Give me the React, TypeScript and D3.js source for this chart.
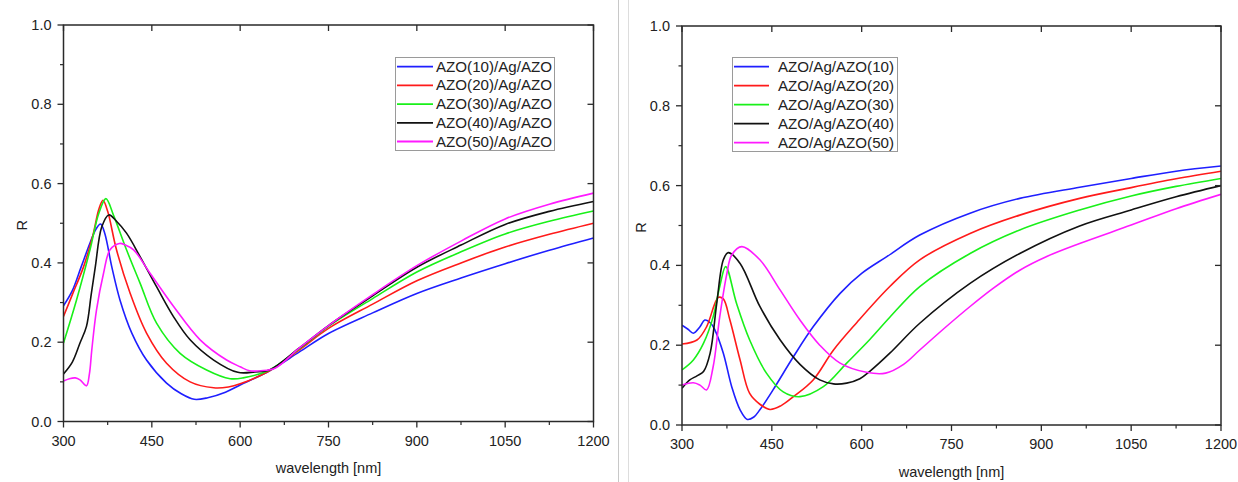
import React from "react";
import * as d3 from "d3";

type Pt = [number, number];

// ---- Left panel data: AZO(x)/Ag/AZO (wavelength nm, R)
const leftAZO10: Pt[] = [[300,0.292],[315,0.33],[330,0.39],[345,0.45],[355,0.485],[363,0.498],[370,0.475],[382,0.39],[396,0.306],[416,0.223],[441,0.155],[475,0.097],[500,0.07],[522,0.056],[545,0.06],[575,0.074],[600,0.092],[650,0.128],[700,0.175],[750,0.222],[825,0.274],[900,0.323],[975,0.362],[1050,0.398],[1125,0.432],[1200,0.463]];
const leftAZO20: Pt[] = [[300,0.265],[315,0.32],[334,0.39],[350,0.47],[360,0.535],[367,0.558],[375,0.53],[390,0.433],[413,0.324],[441,0.223],[475,0.147],[515,0.1],[555,0.085],[580,0.087],[600,0.095],[650,0.128],[700,0.18],[750,0.235],[825,0.296],[900,0.355],[975,0.4],[1050,0.44],[1125,0.472],[1200,0.5]];
const leftAZO30: Pt[] = [[300,0.198],[322,0.306],[345,0.433],[360,0.525],[372,0.562],[385,0.52],[407,0.433],[430,0.349],[458,0.248],[498,0.172],[543,0.13],[583,0.108],[605,0.11],[650,0.13],[700,0.183],[750,0.24],[825,0.31],[900,0.377],[975,0.428],[1050,0.473],[1125,0.505],[1200,0.531]];
const leftAZO40: Pt[] = [[300,0.12],[315,0.15],[328,0.198],[339,0.24],[347,0.32],[354,0.39],[365,0.491],[377,0.521],[390,0.505],[407,0.475],[430,0.416],[458,0.34],[487,0.264],[515,0.206],[555,0.155],[596,0.124],[625,0.125],[650,0.13],[700,0.185],[750,0.242],[825,0.317],[900,0.389],[975,0.445],[1050,0.497],[1125,0.53],[1200,0.555]];
const leftAZO50: Pt[] = [[300,0.102],[310,0.108],[320,0.11],[328,0.105],[339,0.09],[344,0.12],[348,0.18],[356,0.281],[368,0.374],[379,0.433],[395,0.449],[405,0.445],[419,0.433],[447,0.374],[487,0.29],[532,0.206],[577,0.155],[600,0.138],[616,0.128],[635,0.128],[660,0.135],[700,0.185],[750,0.242],[825,0.32],[900,0.393],[975,0.455],[1050,0.511],[1125,0.548],[1200,0.576]];

// ---- Right panel data: AZO/Ag/AZO(x)
const rightAZO10: Pt[] = [[300,0.25],[310,0.24],[319,0.23],[330,0.246],[338,0.263],[348,0.255],[355,0.238],[369,0.18],[383,0.096],[397,0.038],[409,0.014],[420,0.02],[430,0.038],[452,0.088],[486,0.171],[519,0.246],[564,0.33],[600,0.38],[642,0.422],[697,0.476],[781,0.531],[864,0.568],[964,0.596],[1050,0.618],[1125,0.636],[1200,0.649]];
const rightAZO20: Pt[] = [[300,0.203],[325,0.213],[341,0.246],[355,0.305],[361,0.32],[369,0.316],[380,0.263],[397,0.163],[413,0.079],[430,0.052],[447,0.039],[465,0.048],[486,0.071],[519,0.113],[553,0.188],[592,0.257],[647,0.347],[697,0.414],[781,0.48],[864,0.526],[964,0.568],[1050,0.595],[1125,0.617],[1200,0.636]];
const rightAZO30: Pt[] = [[300,0.138],[319,0.163],[336,0.205],[352,0.271],[363,0.347],[373,0.397],[391,0.305],[413,0.213],[441,0.13],[469,0.083],[497,0.071],[536,0.096],[575,0.155],[614,0.215],[647,0.27],[697,0.347],[781,0.43],[864,0.489],[964,0.539],[1050,0.574],[1125,0.598],[1200,0.618]];
const rightAZO40: Pt[] = [[300,0.092],[313,0.113],[325,0.123],[336,0.134],[347,0.18],[358,0.305],[369,0.414],[377,0.432],[397,0.405],[430,0.297],[464,0.213],[497,0.152],[530,0.113],[553,0.103],[575,0.105],[597,0.116],[614,0.135],[647,0.18],[697,0.255],[781,0.355],[864,0.43],[964,0.499],[1050,0.539],[1125,0.572],[1200,0.6]];
const rightAZO50: Pt[] = [[300,0.1],[319,0.106],[330,0.1],[341,0.088],[352,0.146],[363,0.271],[375,0.38],[383,0.426],[400,0.447],[430,0.414],[464,0.338],[497,0.263],[530,0.2],[564,0.155],[608,0.132],[640,0.13],[670,0.152],[697,0.188],[740,0.245],[781,0.297],[820,0.343],[864,0.388],[910,0.423],[964,0.455],[1050,0.501],[1125,0.542],[1200,0.578]];

const leftNames = ["AZO(10)/Ag/AZO","AZO(20)/Ag/AZO","AZO(30)/Ag/AZO","AZO(40)/Ag/AZO","AZO(50)/Ag/AZO"];
const rightNames = ["AZO/Ag/AZO(10)","AZO/Ag/AZO(20)","AZO/Ag/AZO(30)","AZO/Ag/AZO(40)","AZO/Ag/AZO(50)"];
const seriesColors = ["#1f1fff","#ff1a1a","#19f019","#111111","#ff1aff"];

const xTicks = [300,450,600,750,900,1050,1200];
const xMinor = [375,525,675,825,975,1125];
const yTicks = [0,0.2,0.4,0.6,0.8,1.0];
const yMinor = [0.1,0.3,0.5,0.7,0.9];

const FONT = "'Liberation Sans', Arial, sans-serif";
const AX = "#2a2a2a";

interface PanelProps {
  id: string;
  x0: number; x1: number; yTop: number; yBot: number;
  series: Pt[][]; names: string[];
  legend: { x: number; y: number; w: number; h: number; lineX0: number; lineX1: number; textX: number; rowY0: number; rowDy: number };
  rLabelX: number; xLabelY: number;
}

function Panel(p: PanelProps) {
  const xs = d3.scaleLinear().domain([300,1200]).range([p.x0,p.x1]);
  const ys = d3.scaleLinear().domain([0,1]).range([p.yBot,p.yTop]);
  const line = d3.line<Pt>().x(d => xs(d[0])).y(d => ys(d[1])).curve(d3.curveCatmullRom.alpha(0.5));
  const fs = 14.5;
  return (
    <g>
      <defs>
        <clipPath id={p.id + "clip"}>
          <rect x={p.x0} y={p.yTop} width={p.x1 - p.x0} height={p.yBot - p.yTop} />
        </clipPath>
      </defs>
      <g clipPath={`url(#${p.id}clip)`}>
        {p.series.map((s, i) => (
          <path key={i} d={line(s) || ""} fill="none" stroke={seriesColors[i]} strokeWidth={1.6} />
        ))}
      </g>
      <rect x={p.x0} y={p.yTop} width={p.x1 - p.x0} height={p.yBot - p.yTop} fill="none" stroke={AX} strokeWidth={1.5} />
      {xTicks.map(t => (
        <g key={"xb" + t}>
          <line x1={xs(t)} x2={xs(t)} y1={p.yBot} y2={p.yBot + 6} stroke={AX} strokeWidth={1.3} />
          <line x1={xs(t)} x2={xs(t)} y1={p.yTop} y2={p.yTop + 6} stroke={AX} strokeWidth={1.3} />
          <text x={xs(t)} y={p.yBot + 24} fontSize={fs} fontFamily={FONT} fill="#222" textAnchor="middle">{t}</text>
        </g>
      ))}
      {xMinor.map(t => (
        <line key={"xm" + t} x1={xs(t)} x2={xs(t)} y1={p.yBot} y2={p.yBot + 3.5} stroke={AX} strokeWidth={1.2} />
      ))}
      {yTicks.map(t => (
        <g key={"yl" + t}>
          <line x1={p.x0 - 6} x2={p.x0} y1={ys(t)} y2={ys(t)} stroke={AX} strokeWidth={1.3} />
          <line x1={p.x1 - 6} x2={p.x1} y1={ys(t)} y2={ys(t)} stroke={AX} strokeWidth={1.3} />
          <text x={p.x0 - 12} y={ys(t) + 5} fontSize={fs} fontFamily={FONT} fill="#222" textAnchor="end">{t.toFixed(1)}</text>
        </g>
      ))}
      {yMinor.map(t => (
        <line key={"ym" + t} x1={p.x0 - 3.5} x2={p.x0} y1={ys(t)} y2={ys(t)} stroke={AX} strokeWidth={1.2} />
      ))}
      <text transform={`translate(${p.rLabelX},${(p.yTop + p.yBot) / 2 + 2}) rotate(-90)`} fontSize={fs} fontFamily={FONT} fill="#222" textAnchor="middle">R</text>
      <text x={(p.x0 + p.x1) / 2} y={p.xLabelY} fontSize={fs} fontFamily={FONT} fill="#222" textAnchor="middle">wavelength [nm]</text>
      <rect x={p.legend.x} y={p.legend.y} width={p.legend.w} height={p.legend.h} fill="#fff" stroke="#9a9a9a" strokeWidth={1} />
      {p.names.map((n, i) => {
        const yy = p.legend.rowY0 + i * p.legend.rowDy;
        return (
          <g key={n}>
            <line x1={p.legend.lineX0} x2={p.legend.lineX1} y1={yy} y2={yy} stroke={seriesColors[i]} strokeWidth={1.8} />
            <text x={p.legend.textX} y={yy + 5} fontSize={fs} fontFamily={FONT} fill="#222" textLength={116} lengthAdjust="spacingAndGlyphs">{n}</text>
          </g>
        );
      })}
    </g>
  );
}

export default function App() {
  return (
    <svg width={1238} height={482} style={{ position: "absolute", left: 0, top: 0, background: "#fff" }}>
      <rect x={0} y={0} width={1238} height={482} fill="#fff" />
      <line x1={618.5} x2={618.5} y1={0} y2={482} stroke="#c8c8c8" strokeWidth={1} />
      <line x1={628.5} x2={628.5} y1={0} y2={482} stroke="#dddddd" strokeWidth={1} />
      <Panel id="L" x0={63.5} x1={593.5} yTop={25} yBot={421.5}
        series={[leftAZO10, leftAZO20, leftAZO30, leftAZO40, leftAZO50]} names={leftNames}
        legend={{ x: 395.5, y: 57.5, w: 159, h: 93, lineX0: 397, lineX1: 433, textX: 436, rowY0: 66.7, rowDy: 18.7 }}
        rLabelX={27} xLabelY={473} />
      <Panel id="R" x0={682} x1={1221} yTop={26} yBot={425}
        series={[rightAZO10, rightAZO20, rightAZO30, rightAZO40, rightAZO50]} names={rightNames}
        legend={{ x: 732.5, y: 57.5, w: 165, h: 94, lineX0: 734, lineX1: 769, textX: 778, rowY0: 66.7, rowDy: 19 }}
        rLabelX={646} xLabelY={477} />
    </svg>
  );
}
